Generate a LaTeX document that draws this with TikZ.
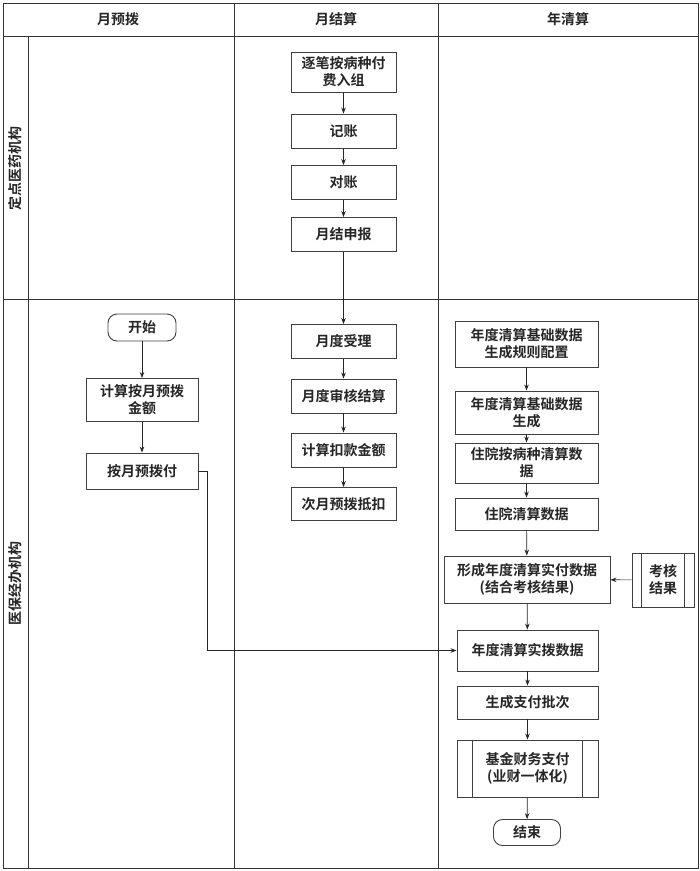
\documentclass[tikz,border=0pt]{standalone}
\usepackage{fontspec}
\setmainfont{Noto Sans CJK SC}[BoldFont={Noto Sans CJK SC Bold}]
\usetikzlibrary{arrows.meta,calc}
\begin{document}
\begin{tikzpicture}[x=1pt,y=-1pt,
  every node/.style={font=\fontsize{14}{17}\selectfont\bfseries, text=black!85},
  box/.style={draw=black!75, line width=0.9pt, rectangle, align=center, inner sep=2pt},
  term/.style={draw=black!75, line width=0.9pt, rectangle, rounded corners=9pt, align=center, inner sep=2pt},
  arr/.style={-{Stealth[length=6pt,width=4.5pt]}, line width=0.7pt, draw=black!85},
  lane/.style={draw=black!80, line width=0.9pt}]
\useasboundingbox (0,0) rectangle (700,871);
% swimlane frame
\draw[lane] (3,3) rectangle (698,868);
\draw[lane] (3,36) -- (698,36);
\draw[lane] (3,299) -- (698,299);
\draw[lane] (28,36) -- (28,868);
\draw[lane] (234,3) -- (234,868);
\draw[lane] (438,3) -- (438,868);
% headers
\node (h1) at (118,19) {月预拨};
\node (h2) at (336,19) {月结算};
\node (h3) at (568,19) {年清算};
\node[rotate=90] (l1) at (15,168) {定点医药机构};
\node[rotate=90] (l2) at (15,583) {医保经办机构};
% column 2
\node[box, minimum width=105, minimum height=40] (n1) at (343.5,72) {逐笔按病种付\\费入组};
\node[box, minimum width=105, minimum height=34] (n2) at (343.5,131) {记账};
\node[box, minimum width=105, minimum height=34] (n3) at (343.5,182.5) {对账};
\node[box, minimum width=105, minimum height=34] (n4) at (343.5,234.5) {月结申报};
\node[box, minimum width=105, minimum height=34] (m1) at (343.5,341.5) {月度受理};
\node[box, minimum width=105, minimum height=34] (m2) at (343.5,396) {月度审核结算};
\node[box, minimum width=105, minimum height=34] (m3) at (343.5,450) {计算扣款金额};
\node[box, minimum width=105, minimum height=33] (m4) at (343.5,504) {次月预拨抵扣};
% column 1
\node[term, minimum width=68, minimum height=27] (st) at (142,327.5) {开始};
\node[box, minimum width=112, minimum height=43] (a1) at (142,400) {计算按月预拨\\金额};
\node[box, minimum width=112, minimum height=36] (a2) at (142,471) {按月预拨付};
% column 3
\node[box, minimum width=143, minimum height=46] (r1) at (526.5,344) {年度清算基础数据\\生成规则配置};
\node[box, minimum width=143, minimum height=43] (r2) at (526.5,412.5) {年度清算基础数据\\生成};
\node[box, minimum width=143, minimum height=40] (r3) at (526.5,463) {住院按病种清算数\\据};
\node[box, minimum width=143, minimum height=32] (r4) at (526.5,514) {住院清算数据};
\node[box, minimum width=166, minimum height=47] (r5) at (527,579.5) {形成年度清算实付数据\\(结合考核结果)};
\node[box, minimum width=62, minimum height=54] (kh) at (663,580) {考核\\结果};
\draw[draw=black!75, line width=0.9pt] ($(kh.north west)+(10,0)$) -- ($(kh.south west)+(10,0)$)
  ($(kh.north east)+(-10,0)$) -- ($(kh.south east)+(-10,0)$);
\node[box, minimum width=141, minimum height=41] (r6) at (527.5,650.5) {年度清算实拨数据};
\node[box, minimum width=141, minimum height=33] (r7) at (527.5,702.5) {生成支付批次};
\node[box, minimum width=141, minimum height=57] (r8) at (527.5,768.5) {基金财务支付\\(业财一体化)};
\draw[draw=black!75, line width=0.9pt] ($(r8.north west)+(16,0)$) -- ($(r8.south west)+(16,0)$)
  ($(r8.north east)+(-16,0)$) -- ($(r8.south east)+(-16,0)$);
\node[term, minimum width=67, minimum height=26] (en) at (527,832.5) {结束};
% connectors
\draw[arr] (n1) -- (n2);
\draw[arr] (n2) -- (n3);
\draw[arr] (n3) -- (n4);
\draw[arr] (n4) -- (m1);
\draw[arr] (m1) -- (m2);
\draw[arr] (m2) -- (m3);
\draw[arr] (m3) -- (m4);
\draw[arr] (st) -- (a1);
\draw[arr] (a1) -- (a2);
\draw[arr] (a2.east) -- ++(9,0) |- (r6.west);
\draw[arr] (r1) -- (r2);
\draw[arr] (r2) -- (r3);
\draw[arr] (r3) -- (r4);
\draw[arr] (r4) -- (r5);
\draw[arr] (kh) -- (r5);
\draw[arr] (r5) -- (r6);
\draw[arr] (r6) -- (r7);
\draw[arr] (r7) -- (r8);
\draw[arr] (r8) -- (en);
\end{tikzpicture}
\end{document}
